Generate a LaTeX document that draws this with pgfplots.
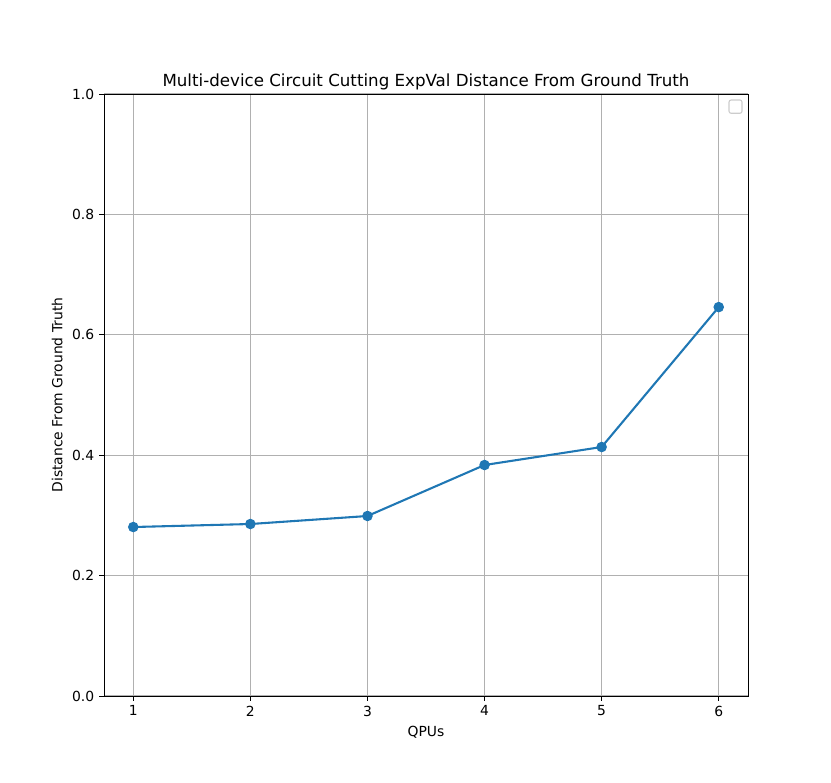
\documentclass[border=0pt]{standalone}
\usepackage{pgfplots}
\pgfplotsset{compat=1.18}
\usepackage{fontspec}
\setmainfont{DejaVu Sans}
\definecolor{cz}{HTML}{1F77B4}
\definecolor{gridc}{HTML}{B0B0B0}
\begin{document}
\begin{tikzpicture}
\path[use as bounding box] (0,0) rectangle (598.32pt,563.04pt);
\begin{axis}[
  at={(74.88pt,61.92pt)}, anchor=south west,
  scale only axis, width=463.68pt, height=433.44pt,
  xmin=0.75, xmax=6.25, ymin=0, ymax=1,
  xtick={1,2,3,4,5,6},
  ytick={0,0.2,0.4,0.6,0.8,1.0},
  yticklabel style={/pgf/number format/.cd,fixed,fixed zerofill,precision=1},
  /pgf/number format/assume math mode=true,
  tick align=outside, major tick length=3.5pt,
  tick style={black, line width=0.7pt},
  axis line style={line width=0.7pt},
  grid=major, grid style={gridc, line width=0.8pt},
  ticklabel style={font=\fontsize{10}{12}\selectfont},
  xtick pos=bottom, ytick pos=left,
  title={Multi-device Circuit Cutting ExpVal Distance From Ground Truth},
  title style={font=\fontsize{12}{14}\selectfont, yshift=-6.5pt},
  xlabel={QPUs}, ylabel={Distance From Ground Truth},
  label style={font=\fontsize{10}{12}\selectfont},
]
\addplot[cz, line width=1.5pt, mark=*, mark size=3pt, mark options={fill=cz, draw=cz}]
coordinates {(1,0.2807) (2,0.2857) (3,0.2990) (4,0.3837) (5,0.4136) (6,0.6460)};
\draw[rounded corners=1.5pt, color=black!20, line width=0.8pt] (rel axis cs:0.9705,0.968) rectangle (rel axis cs:0.9907,0.990);
\end{axis}
\end{tikzpicture}
\end{document}
